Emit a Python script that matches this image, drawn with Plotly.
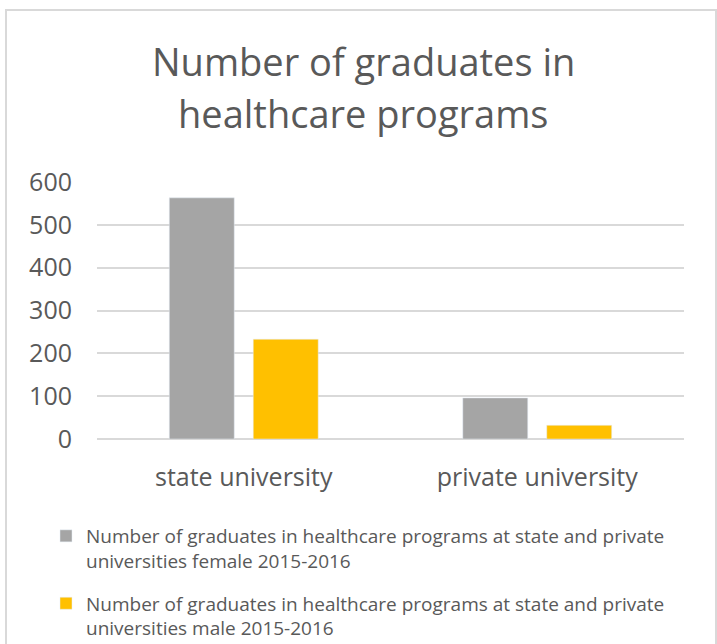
import plotly.graph_objects as go

categories = ["state university", "private university"]
female = [563, 96]
male = [233, 32]
series_names = [
    "Number of graduates in healthcare programs at state and private<br>universities female 2015-2016",
    "Number of graduates in healthcare programs at state and private<br>universities male 2015-2016",
]
title_lines = ["Number of graduates in", "healthcare programs"]

TXT = "#595959"
FONT = "Open Sans"

fig = go.Figure()
fig.add_bar(x=categories, y=female, name=series_names[0], marker=dict(color="#A5A5A5"),
            legendgroup="f")
fig.add_bar(x=categories, y=male, name=series_names[1], marker=dict(color="#FFC000"),
            legendgroup="m")

L, R, T, B = 97, 33, 182, 205
W, H = 717, 644
pw, ph = W - L - R, H - T - B

def px_x(x):
    return (x - L) / pw

def px_y(y):
    return (H - B - y) / ph

fig.update_layout(
    width=W, height=H,
    margin=dict(l=L, r=R, t=T, b=B, autoexpand=False),
    paper_bgcolor="white", plot_bgcolor="white",
    barmode="group", bargap=0.428, bargroupgap=0.226,
    font=dict(family=FONT, color=TXT),
    showlegend=True,
    legend=dict(
        x=px_x(46), y=px_y(517), xanchor="left", yanchor="top",
        font=dict(size=19, color=TXT, family=FONT),
        valign="top", tracegroupgap=15, itemwidth=30,
        bgcolor="rgba(0,0,0,0)",
    ),
    xaxis=dict(showline=False, showgrid=False, ticks="", tickfont=dict(size=25, color=TXT),
               ticklabelstandoff=21, automargin=False),
    yaxis=dict(range=[0, 600], dtick=100, showline=False, showgrid=True, gridcolor="#D9D9D9",
               gridwidth=1.5, zeroline=True, zerolinecolor="#D9D9D9", zerolinewidth=1.5,
               ticks="", tickfont=dict(size=25, color=TXT), ticklabelstandoff=24,
               automargin=False),
)

fig.add_annotation(text=title_lines[0], xref="paper", yref="paper", x=px_x(363), y=px_y(61),
                   xanchor="center", yanchor="middle", showarrow=False,
                   font=dict(size=38, color=TXT, family=FONT))
fig.add_annotation(text=title_lines[1], xref="paper", yref="paper", x=px_x(363), y=px_y(113),
                   xanchor="center", yanchor="middle", showarrow=False,
                   font=dict(size=38, color=TXT, family=FONT))

fig.add_shape(type="rect", xref="paper", yref="paper",
              x0=px_x(6), x1=px_x(716), y0=px_y(10), y1=px_y(700),
              line=dict(color="#D9D9D9", width=2), layer="below")

fig.write_html("out.html")
